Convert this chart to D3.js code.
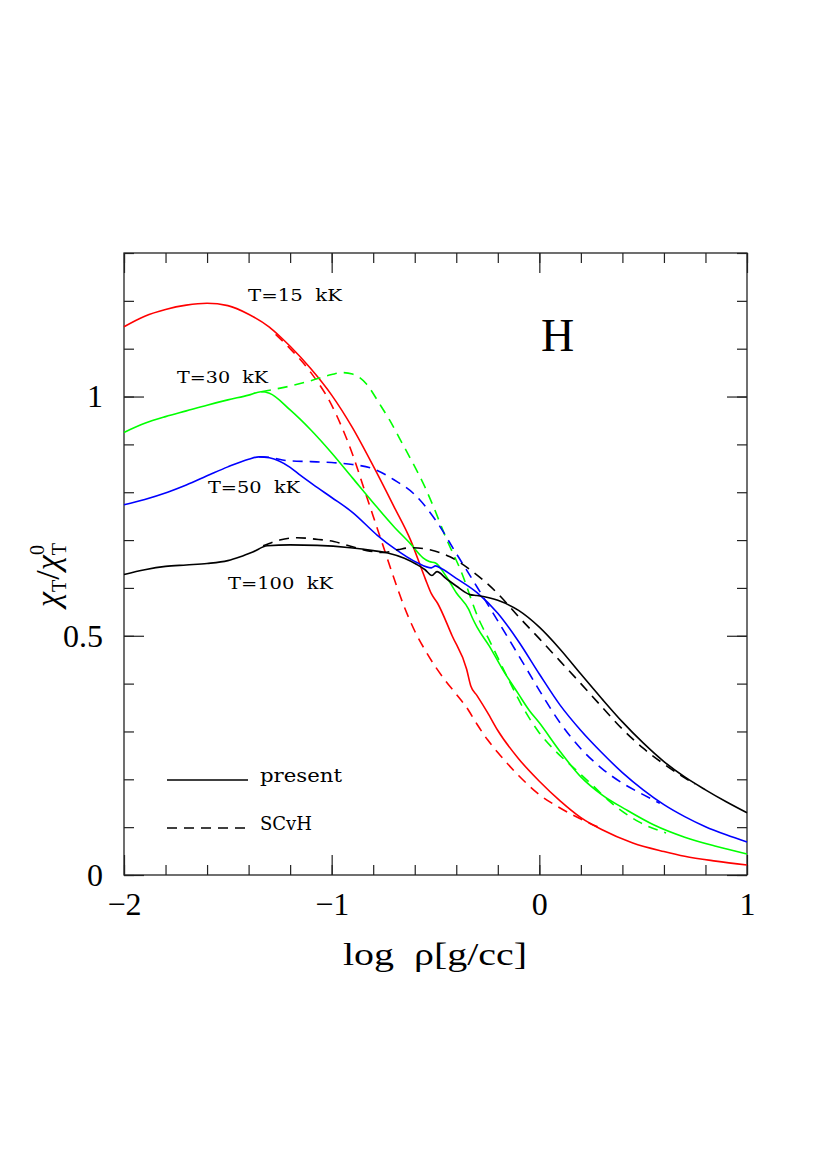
<!DOCTYPE html>
<meta charset="utf-8">
<style>
body { margin: 0; background: #fff; }
.curve { fill: none; stroke-width: 1.6; }
.dash { stroke-dasharray: 10,7; }
.axis text { font-family: "Liberation Serif", serif; font-size: 32px; fill: #000; }
.axis line { stroke: #222; stroke-width: 1.2; }
.axis path { display: none; }
.lab { font-family: "DejaVu Serif", serif; fill: #000; }
.tex { font-family: "Liberation Serif", serif; fill: #000; }
</style>
<body>
<script src="https://cdn.jsdelivr.net/npm/d3@7"></script>
<script>
// ---- data: [log rho, chi_T / chi_T0] ----
var t15Present = [[-2,1.146],[-1.9,1.168],[-1.8,1.182],[-1.7,1.191],[-1.6,1.195],[-1.5,1.19],[-1.4,1.172],
  [-1.3,1.145],[-1.25,1.126],[-1.2,1.105],[-1.1,1.058],[-1.0,1.003],[-0.9,0.935],[-0.8,0.855],[-0.7,0.77],
  [-0.62,0.70],[-0.55,0.62],[-0.52,0.588],[-0.49,0.568],[-0.42,0.50],[-0.35,0.43],[-0.33,0.395],[-0.3,0.375],
  [-0.25,0.34],[-0.2,0.302],[-0.1,0.243],[0,0.196],[0.1,0.155],[0.2,0.12],[0.3,0.095],[0.45,0.067],
  [0.6,0.049],[0.7,0.039],[0.85,0.029],[1.0,0.021]];
var t15SCvH = [[-1.27,1.13],[-1.2,1.1],[-1.1,1.05],[-1.0,0.982],[-0.95,0.935],[-0.9,0.88],[-0.85,0.815],
  [-0.8,0.75],[-0.75,0.685],[-0.7,0.62],[-0.65,0.56],[-0.6,0.51],[-0.55,0.47],[-0.5,0.435],[-0.45,0.405],
  [-0.4,0.378],[-0.35,0.35],[-0.3,0.315],[-0.25,0.283],[-0.2,0.256],[-0.1,0.208],[0,0.168],[0.1,0.14],
  [0.2,0.117],[0.3,0.097]];
var t30Present = [[-2,0.925],[-1.9,0.944],[-1.8,0.958],[-1.7,0.97],[-1.6,0.982],[-1.5,0.993],[-1.4,1.003],
  [-1.34,1.01],[-1.3,1.007],[-1.2,0.972],[-1.1,0.93],[-1.0,0.882],[-0.9,0.83],[-0.8,0.778],[-0.7,0.728],
  [-0.62,0.692],[-0.56,0.663],[-0.53,0.655],[-0.5,0.652],[-0.45,0.625],[-0.4,0.59],[-0.34,0.555],
  [-0.32,0.535],[-0.3,0.518],[-0.24,0.478],[-0.18,0.432],[-0.1,0.378],[-0.05,0.345],[0,0.318],[0.1,0.258],
  [0.2,0.205],[0.3,0.168],[0.42,0.136],[0.55,0.105],[0.7,0.079],[0.85,0.06],[1.0,0.044]];
var t30SCvH = [[-1.34,1.01],[-1.2,1.022],[-1.1,1.033],[-1.0,1.046],[-0.95,1.05],[-0.9,1.047],[-0.83,1.025],
  [-0.77,0.985],[-0.72,0.95],[-0.67,0.91],[-0.62,0.87],[-0.55,0.81],[-0.51,0.77],[-0.445,0.70],
  [-0.38,0.638],[-0.29,0.533],[-0.24,0.49],[-0.15,0.41],[-0.08,0.351],[0,0.297],[0.08,0.258],
  [0.16,0.226],[0.25,0.19],[0.33,0.157],[0.48,0.111],[0.61,0.088]];
var t50Present = [[-2,0.774],[-1.9,0.785],[-1.79,0.80],[-1.7,0.815],[-1.586,0.837],[-1.5,0.853],[-1.4,0.869],
  [-1.35,0.874],[-1.3,0.872],[-1.2,0.852],[-1.15,0.835],[-1.07,0.81],[-1.0,0.789],[-0.9,0.758],[-0.78,0.71],
  [-0.7,0.683],[-0.59,0.653],[-0.52,0.642],[-0.5,0.646],[-0.47,0.64],[-0.4,0.62],[-0.3,0.59],[-0.2,0.547],
  [-0.1,0.488],[0,0.42],[0.1,0.355],[0.2,0.302],[0.3,0.256],[0.4,0.214],[0.5,0.178],[0.6,0.147],
  [0.7,0.122],[0.8,0.101],[0.9,0.084],[1.0,0.069]];
var t50SCvH = [[-1.35,0.874],[-1.3,0.873],[-1.215,0.866],[-1.1,0.864],[-1.0,0.862],[-0.9,0.858],[-0.8,0.849],
  [-0.7,0.826],[-0.6,0.795],[-0.5,0.742],[-0.4,0.672],[-0.3,0.602],[-0.2,0.531],[-0.1,0.459],[0,0.386],
  [0.1,0.318],[0.2,0.264],[0.3,0.223],[0.4,0.192],[0.5,0.168],[0.58,0.15]];
var t100Present = [[-2,0.628],[-1.9,0.638],[-1.8,0.645],[-1.7,0.648],[-1.6,0.651],[-1.5,0.657],[-1.44,0.665],
  [-1.38,0.675],[-1.31,0.688],[-1.2,0.69],[-1.07,0.689],[-0.91,0.684],[-0.8,0.678],[-0.73,0.673],
  [-0.65,0.662],[-0.59,0.649],[-0.55,0.638],[-0.517,0.626],[-0.493,0.634],[-0.45,0.62],[-0.4,0.604],
  [-0.334,0.586],[-0.3,0.584],[-0.2,0.574],[-0.1,0.553],[0,0.518],[0.1,0.472],[0.2,0.42],[0.3,0.369],
  [0.4,0.32],[0.5,0.276],[0.6,0.237],[0.7,0.205],[0.8,0.178],[0.9,0.153],[1.0,0.13]];
var t100SCvH = [[-1.33,0.688],[-1.25,0.7],[-1.167,0.705],[-1.08,0.702],[-0.99,0.697],[-0.9,0.686],
  [-0.83,0.678],[-0.75,0.674],[-0.68,0.68],[-0.62,0.684],[-0.53,0.68],[-0.43,0.665],[-0.33,0.637],
  [-0.2,0.588],[-0.1,0.54],[0,0.494],[0.1,0.447],[0.2,0.4],[0.3,0.352],[0.4,0.305],[0.5,0.265],
  [0.6,0.232],[0.7,0.203],[0.75,0.19]];

var series = [
  {data: t15Present, color: "#ff0000", dashed: false},
  {data: t15SCvH, color: "#ff0000", dashed: true},
  {data: t30Present, color: "#00ff00", dashed: false},
  {data: t30SCvH, color: "#00ff00", dashed: true},
  {data: t50Present, color: "#0000ff", dashed: false},
  {data: t50SCvH, color: "#0000ff", dashed: true},
  {data: t100Present, color: "#000000", dashed: false},
  {data: t100SCvH, color: "#000000", dashed: true}
];
var curveLabels = ["T=15  kK", "T=30  kK", "T=50  kK", "T=100  kK"];
var xMajor = [-2, -1, 0, 1];
var yMajor = [0, 0.5, 1];

// ---- frame ----
var plotL = 124, plotR = 747, plotT = 253, plotB = 875;

var x = d3.scaleLinear().domain([-2, 1]).range([plotL, plotR]);
var y = d3.scaleLinear().domain([0, 1.3]).range([plotB, plotT]);

var svg = d3.select("body").append("svg")
    .attr("width", 830)
    .attr("height", 1175);

var xMinor = d3.range(-2, 1.001, 0.2).map(function(d) { return +d.toFixed(1); });
var yMinor = d3.range(0, 1.301, 0.1).map(function(d) { return +d.toFixed(1); });

// bottom
svg.append("g").attr("class", "axis").attr("transform", "translate(0," + plotB + ")")
    .call(d3.axisBottom(x).tickValues(xMinor).tickSizeInner(-10).tickSizeOuter(0).tickFormat(""));
svg.append("g").attr("class", "axis").attr("transform", "translate(0," + plotB + ")")
    .call(d3.axisBottom(x).tickValues(xMajor).tickSizeInner(-20).tickSizeOuter(0).tickPadding(17).tickFormat(d3.format("d")));
// top
svg.append("g").attr("class", "axis").attr("transform", "translate(0," + plotT + ")")
    .call(d3.axisTop(x).tickValues(xMinor).tickSizeInner(-10).tickSizeOuter(0).tickFormat(""));
svg.append("g").attr("class", "axis").attr("transform", "translate(0," + plotT + ")")
    .call(d3.axisTop(x).tickValues(xMajor).tickSizeInner(-20).tickSizeOuter(0).tickFormat(""));
// left
svg.append("g").attr("class", "axis").attr("transform", "translate(" + plotL + ",0)")
    .call(d3.axisLeft(y).tickValues(yMinor).tickSizeInner(-10).tickSizeOuter(0).tickFormat(""));
svg.append("g").attr("class", "axis").attr("transform", "translate(" + plotL + ",0)")
    .call(d3.axisLeft(y).tickValues(yMajor).tickSizeInner(-20).tickSizeOuter(0).tickPadding(21).tickFormat(d3.format("~g")));
// right
svg.append("g").attr("class", "axis").attr("transform", "translate(" + plotR + ",0)")
    .call(d3.axisRight(y).tickValues(yMinor).tickSizeInner(-10).tickSizeOuter(0).tickFormat(""));
svg.append("g").attr("class", "axis").attr("transform", "translate(" + plotR + ",0)")
    .call(d3.axisRight(y).tickValues(yMajor).tickSizeInner(-20).tickSizeOuter(0).tickFormat(""));

svg.append("rect")
    .attr("x", plotL).attr("y", plotT)
    .attr("width", plotR - plotL).attr("height", plotB - plotT)
    .attr("fill", "none").attr("stroke", "#222").attr("stroke-width", 1.3);

// ---- curves ----
var line = d3.line()
    .x(function(d) { return x(d[0]); })
    .y(function(d) { return y(d[1]); })
    .curve(d3.curveMonotoneX);

svg.selectAll(".curve")
    .data(series)
  .enter().append("path")
    .attr("class", function(d) { return d.dashed ? "curve dash" : "curve"; })
    .attr("stroke", function(d) { return d.color; })
    .attr("d", function(d) { return line(d.data); });

// ---- curve labels ----
var labelPos = [[248, 301, 94], [177, 383, 91], [208, 493, 92], [228, 589, 105]];
curveLabels.forEach(function(t, i) {
  svg.append("text").attr("class", "lab")
      .attr("x", labelPos[i][0]).attr("y", labelPos[i][1])
      .attr("font-size", 16)
      .attr("xml:space", "preserve").style("white-space", "pre")
      .attr("textLength", labelPos[i][2]).attr("lengthAdjust", "spacingAndGlyphs")
      .text(t);
});

svg.append("text").attr("class", "tex")
    .attr("x", 541).attr("y", 351)
    .attr("font-size", 46)
    .text("H");

// ---- legend ----
svg.append("line").attr("x1", 167).attr("x2", 248).attr("y1", 780).attr("y2", 780)
    .attr("stroke", "#000").attr("stroke-width", 1.3);
svg.append("line").attr("x1", 167).attr("x2", 248).attr("y1", 828).attr("y2", 828)
    .attr("stroke", "#000").attr("stroke-width", 1.3).attr("stroke-dasharray", "10,7");
svg.append("text").attr("class", "lab").attr("x", 260).attr("y", 782)
    .attr("font-size", 18).attr("textLength", 82).attr("lengthAdjust", "spacingAndGlyphs").text("present");
svg.append("text").attr("class", "lab").attr("x", 260).attr("y", 830)
    .attr("font-size", 18).attr("textLength", 52).attr("lengthAdjust", "spacingAndGlyphs").text("SCvH");

// ---- axis titles ----
svg.append("text").attr("class", "tex")
    .attr("x", 343).attr("y", 965)
    .attr("font-size", 32)
    .attr("xml:space", "preserve").style("white-space", "pre")
    .attr("textLength", 184).attr("lengthAdjust", "spacingAndGlyphs")
    .text("log  \u03c1[g/cc]");

var yt = svg.append("text").attr("class", "tex")
    .attr("transform", "translate(59,575) rotate(-90)")
    .attr("text-anchor", "middle")
    .attr("font-size", 34);
yt.append("tspan").attr("font-style", "italic").text("\u03c7");
yt.append("tspan").attr("font-size", 20).attr("dy", 7).text("T");
yt.append("tspan").attr("dy", -7).text("/");
yt.append("tspan").attr("font-style", "italic").text("\u03c7");
yt.append("tspan").attr("font-size", 20).attr("dy", 7).text("T");
yt.append("tspan").attr("font-size", 20).attr("dx", -12).attr("dy", -22).text("0");
</script>
</body>
